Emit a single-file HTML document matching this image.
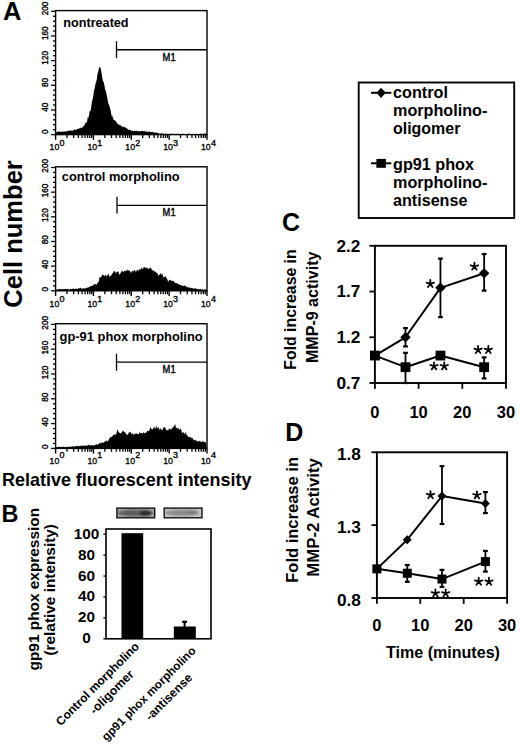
<!DOCTYPE html>
<html><head><meta charset="utf-8"><style>
html,body{margin:0;padding:0;background:#fff;}
svg{display:block;}
svg{font-family:"Liberation Sans",sans-serif;font-weight:bold;}
</style></head><body>
<svg width="520" height="744" viewBox="0 0 520 744">
<rect width="520" height="744" fill="#fff"/>
<polygon points="56.2,134.6 56.2,131.99 56.9,132.04 57.6,131.83 58.3,131.61 59,131.7 59.7,131.5 60.4,131.77 61.1,132.12 61.8,131.53 62.5,131.45 63.2,131.75 63.9,131.67 64.6,131.55 65.3,131.19 66,131.39 66.7,131.54 67.4,130.86 68.1,131.05 68.8,130.55 69.5,130.66 70.2,130.43 70.9,130.84 71.6,130.46 72.3,130.8 73,130.58 73.7,130.28 74.4,129.27 75.1,129.77 75.8,129.77 76.5,129.65 77.2,128.78 77.9,129.02 78.6,128.49 79.3,128.24 80,128.85 80.7,127.59 81.4,127.69 82.1,127.91 82.8,126.74 83.5,126.26 84.2,125.48 84.9,124.52 85.6,122.45 86.3,122.4 87,122.26 87.7,117.32 88.4,117.99 89.1,114.41 89.8,110.8 90.5,111.25 91.2,107.03 91.9,101.95 92.6,99.43 93.3,95.76 94,90.57 94.7,88.36 95.4,84.21 96.1,81.84 96.8,79.55 97.5,73.79 98.2,71.82 98.9,68.48 99.6,66.65 100.3,67.23 101,70.1 101.7,73.78 102.4,78.32 103.1,81.82 103.8,82.01 104.5,85.8 105.2,90.58 105.9,90.21 106.6,94.84 107.3,98.02 108,102.31 108.7,104.29 109.4,105.75 110.1,108.39 110.8,111.23 111.5,115.68 112.2,115.51 112.9,117.83 113.6,119.68 114.3,120.01 115,120.82 115.7,120.79 116.4,122.56 117.1,122.63 117.8,124.55 118.5,124.54 119.2,124.44 119.9,125.45 120.6,125.11 121.3,126.52 122,126.2 122.7,126.99 123.4,126.26 124.1,127.66 124.8,126.97 125.5,127.16 126.2,128.33 126.9,128.34 127.6,129.11 128.3,130.27 129,129.27 129.7,129.64 130.4,130.23 131.1,130.6 131.8,130.67 132.5,130.76 133.2,131.07 133.9,131.05 134.6,130.62 135.3,130.94 136,131.01 136.7,130.72 137.4,131.15 138.1,130.85 138.8,131.43 139.5,131.23 140.2,131.24 140.9,131.08 141.6,131.26 142.3,130.74 143,131.04 143.7,131.53 144.4,130.83 145.1,131.76 145.8,131.02 146.5,131.82 147.2,131.38 147.9,131.91 148.6,131.76 149.3,131.3 150,132.17 150.7,132.34 151.4,132 152.1,132.05 152.8,132.2 153.5,132.07 154.2,132.8 154.9,132.42 155.6,132.68 156.3,132.57 157,132.73 157.7,132.65 158.4,133.52 159.1,133.21 159.8,133.66 160.5,133.46 161.2,133.34 161.9,133.53 162.6,133.54 163.3,133.8 164,133.77 164.7,133.87 165.4,133.59 166.1,133.76 166.8,134.5 167.5,133.8 168.2,133.68 168.9,134.1 169.6,134.42 170.3,133.56 171,133.94 171.7,133.81 172.4,133.47 173.1,134.22 173.8,133.99 174.5,134.02 175.2,133.77 175.9,134.14 176.6,133.84 177.3,133.96 178,133.67 178.7,133.64 179.4,134.4 180.1,133.85 180.8,134.09 181.5,133.99 182.2,133.87 182.9,133.85 183.6,134.19 184.3,133.91 185,133.95 185.7,134.01 186.4,134.35 187.1,134.2 187.8,134.11 188.5,133.83 189.2,133.59 189.9,134.28 190.6,134.29 191.3,133.96 192,134.16 192.7,134.23 193.4,134.25 194.1,134.28 194.8,133.86 195.5,134.45 196.2,133.63 196.9,134.26 197.6,134.15 198.3,134.26 199,134.56 199.7,134.45 200.4,133.66 201.1,133.49 201.8,134.25 202.5,133.7 203.2,134 203.9,134.25 204.6,133.51 205.3,133.37 206,134.08 206.6,134.6" fill="#000"/>
<rect x="55.6" y="10.6" width="151.4" height="124" fill="none" stroke="#000" stroke-width="1.4"/>
<line x1="51.1" y1="134.6" x2="55.6" y2="134.6" stroke="#000" stroke-width="1.3" />
<line x1="53" y1="129.67" x2="55.6" y2="129.67" stroke="#000" stroke-width="1.3" />
<line x1="53" y1="124.74" x2="55.6" y2="124.74" stroke="#000" stroke-width="1.3" />
<line x1="53" y1="119.8" x2="55.6" y2="119.8" stroke="#000" stroke-width="1.3" />
<line x1="53" y1="114.87" x2="55.6" y2="114.87" stroke="#000" stroke-width="1.3" />
<line x1="51.1" y1="109.94" x2="55.6" y2="109.94" stroke="#000" stroke-width="1.3" />
<line x1="53" y1="105.01" x2="55.6" y2="105.01" stroke="#000" stroke-width="1.3" />
<line x1="53" y1="100.08" x2="55.6" y2="100.08" stroke="#000" stroke-width="1.3" />
<line x1="53" y1="95.14" x2="55.6" y2="95.14" stroke="#000" stroke-width="1.3" />
<line x1="53" y1="90.21" x2="55.6" y2="90.21" stroke="#000" stroke-width="1.3" />
<line x1="51.1" y1="85.28" x2="55.6" y2="85.28" stroke="#000" stroke-width="1.3" />
<line x1="53" y1="80.35" x2="55.6" y2="80.35" stroke="#000" stroke-width="1.3" />
<line x1="53" y1="75.42" x2="55.6" y2="75.42" stroke="#000" stroke-width="1.3" />
<line x1="53" y1="70.48" x2="55.6" y2="70.48" stroke="#000" stroke-width="1.3" />
<line x1="53" y1="65.55" x2="55.6" y2="65.55" stroke="#000" stroke-width="1.3" />
<line x1="51.1" y1="60.62" x2="55.6" y2="60.62" stroke="#000" stroke-width="1.3" />
<line x1="53" y1="55.69" x2="55.6" y2="55.69" stroke="#000" stroke-width="1.3" />
<line x1="53" y1="50.76" x2="55.6" y2="50.76" stroke="#000" stroke-width="1.3" />
<line x1="53" y1="45.82" x2="55.6" y2="45.82" stroke="#000" stroke-width="1.3" />
<line x1="53" y1="40.89" x2="55.6" y2="40.89" stroke="#000" stroke-width="1.3" />
<line x1="51.1" y1="35.96" x2="55.6" y2="35.96" stroke="#000" stroke-width="1.3" />
<line x1="53" y1="31.03" x2="55.6" y2="31.03" stroke="#000" stroke-width="1.3" />
<line x1="53" y1="26.1" x2="55.6" y2="26.1" stroke="#000" stroke-width="1.3" />
<line x1="53" y1="21.16" x2="55.6" y2="21.16" stroke="#000" stroke-width="1.3" />
<line x1="53" y1="16.23" x2="55.6" y2="16.23" stroke="#000" stroke-width="1.3" />
<line x1="51.1" y1="11.3" x2="55.6" y2="11.3" stroke="#000" stroke-width="1.3" />
<text x="48.2" y="131.8" font-size="9.6" font-weight="normal" stroke="#000" stroke-width="0.4" text-anchor="middle" textLength="4.55" lengthAdjust="spacingAndGlyphs" transform="rotate(-90 48.2 131.8)" >0</text>
<text x="48.2" y="107.14" font-size="9.6" font-weight="normal" stroke="#000" stroke-width="0.4" text-anchor="middle" textLength="9.1" lengthAdjust="spacingAndGlyphs" transform="rotate(-90 48.2 107.14)" >40</text>
<text x="48.2" y="82.48" font-size="9.6" font-weight="normal" stroke="#000" stroke-width="0.4" text-anchor="middle" textLength="9.1" lengthAdjust="spacingAndGlyphs" transform="rotate(-90 48.2 82.48)" >80</text>
<text x="48.2" y="57.82" font-size="9.6" font-weight="normal" stroke="#000" stroke-width="0.4" text-anchor="middle" textLength="13.65" lengthAdjust="spacingAndGlyphs" transform="rotate(-90 48.2 57.82)" >120</text>
<text x="48.2" y="33.16" font-size="9.6" font-weight="normal" stroke="#000" stroke-width="0.4" text-anchor="middle" textLength="13.65" lengthAdjust="spacingAndGlyphs" transform="rotate(-90 48.2 33.16)" >160</text>
<text x="48.2" y="8.5" font-size="9.6" font-weight="normal" stroke="#000" stroke-width="0.4" text-anchor="middle" textLength="13.65" lengthAdjust="spacingAndGlyphs" transform="rotate(-90 48.2 8.5)" >200</text>
<line x1="66.99" y1="134.6" x2="66.99" y2="138" stroke="#000" stroke-width="1.3" />
<line x1="73.66" y1="134.6" x2="73.66" y2="138" stroke="#000" stroke-width="1.3" />
<line x1="78.39" y1="134.6" x2="78.39" y2="138" stroke="#000" stroke-width="1.3" />
<line x1="82.06" y1="134.6" x2="82.06" y2="138" stroke="#000" stroke-width="1.3" />
<line x1="85.05" y1="134.6" x2="85.05" y2="138" stroke="#000" stroke-width="1.3" />
<line x1="87.59" y1="134.6" x2="87.59" y2="138" stroke="#000" stroke-width="1.3" />
<line x1="89.78" y1="134.6" x2="89.78" y2="138" stroke="#000" stroke-width="1.3" />
<line x1="91.72" y1="134.6" x2="91.72" y2="138" stroke="#000" stroke-width="1.3" />
<line x1="104.84" y1="134.6" x2="104.84" y2="138" stroke="#000" stroke-width="1.3" />
<line x1="111.51" y1="134.6" x2="111.51" y2="138" stroke="#000" stroke-width="1.3" />
<line x1="116.24" y1="134.6" x2="116.24" y2="138" stroke="#000" stroke-width="1.3" />
<line x1="119.91" y1="134.6" x2="119.91" y2="138" stroke="#000" stroke-width="1.3" />
<line x1="122.9" y1="134.6" x2="122.9" y2="138" stroke="#000" stroke-width="1.3" />
<line x1="125.44" y1="134.6" x2="125.44" y2="138" stroke="#000" stroke-width="1.3" />
<line x1="127.63" y1="134.6" x2="127.63" y2="138" stroke="#000" stroke-width="1.3" />
<line x1="129.57" y1="134.6" x2="129.57" y2="138" stroke="#000" stroke-width="1.3" />
<line x1="142.69" y1="134.6" x2="142.69" y2="138" stroke="#000" stroke-width="1.3" />
<line x1="149.36" y1="134.6" x2="149.36" y2="138" stroke="#000" stroke-width="1.3" />
<line x1="154.09" y1="134.6" x2="154.09" y2="138" stroke="#000" stroke-width="1.3" />
<line x1="157.76" y1="134.6" x2="157.76" y2="138" stroke="#000" stroke-width="1.3" />
<line x1="160.75" y1="134.6" x2="160.75" y2="138" stroke="#000" stroke-width="1.3" />
<line x1="163.29" y1="134.6" x2="163.29" y2="138" stroke="#000" stroke-width="1.3" />
<line x1="165.48" y1="134.6" x2="165.48" y2="138" stroke="#000" stroke-width="1.3" />
<line x1="167.42" y1="134.6" x2="167.42" y2="138" stroke="#000" stroke-width="1.3" />
<line x1="180.54" y1="134.6" x2="180.54" y2="138" stroke="#000" stroke-width="1.3" />
<line x1="187.21" y1="134.6" x2="187.21" y2="138" stroke="#000" stroke-width="1.3" />
<line x1="191.94" y1="134.6" x2="191.94" y2="138" stroke="#000" stroke-width="1.3" />
<line x1="195.61" y1="134.6" x2="195.61" y2="138" stroke="#000" stroke-width="1.3" />
<line x1="198.6" y1="134.6" x2="198.6" y2="138" stroke="#000" stroke-width="1.3" />
<line x1="201.14" y1="134.6" x2="201.14" y2="138" stroke="#000" stroke-width="1.3" />
<line x1="203.33" y1="134.6" x2="203.33" y2="138" stroke="#000" stroke-width="1.3" />
<line x1="205.27" y1="134.6" x2="205.27" y2="138" stroke="#000" stroke-width="1.3" />
<line x1="55.6" y1="134.6" x2="55.6" y2="139.8" stroke="#000" stroke-width="1.4" />
<text x="49.6" y="150.4" font-size="9.6" font-weight="normal" stroke="#000" stroke-width="0.35" textLength="9.7" lengthAdjust="spacingAndGlyphs">10</text>
<text x="59.5" y="145.5" font-size="9" font-weight="normal" stroke="#000" stroke-width="0.35">0</text>
<line x1="93.45" y1="134.6" x2="93.45" y2="139.8" stroke="#000" stroke-width="1.4" />
<text x="87.45" y="150.4" font-size="9.6" font-weight="normal" stroke="#000" stroke-width="0.35" textLength="9.7" lengthAdjust="spacingAndGlyphs">10</text>
<text x="97.35" y="145.5" font-size="9" font-weight="normal" stroke="#000" stroke-width="0.35">1</text>
<line x1="131.3" y1="134.6" x2="131.3" y2="139.8" stroke="#000" stroke-width="1.4" />
<text x="125.3" y="150.4" font-size="9.6" font-weight="normal" stroke="#000" stroke-width="0.35" textLength="9.7" lengthAdjust="spacingAndGlyphs">10</text>
<text x="135.2" y="145.5" font-size="9" font-weight="normal" stroke="#000" stroke-width="0.35">2</text>
<line x1="169.15" y1="134.6" x2="169.15" y2="139.8" stroke="#000" stroke-width="1.4" />
<text x="163.15" y="150.4" font-size="9.6" font-weight="normal" stroke="#000" stroke-width="0.35" textLength="9.7" lengthAdjust="spacingAndGlyphs">10</text>
<text x="173.05" y="145.5" font-size="9" font-weight="normal" stroke="#000" stroke-width="0.35">3</text>
<line x1="207" y1="134.6" x2="207" y2="139.8" stroke="#000" stroke-width="1.4" />
<text x="201" y="150.4" font-size="9.6" font-weight="normal" stroke="#000" stroke-width="0.35" textLength="9.7" lengthAdjust="spacingAndGlyphs">10</text>
<text x="210.9" y="145.5" font-size="9" font-weight="normal" stroke="#000" stroke-width="0.35">4</text>
<text x="63.3" y="27.3" font-size="12.5" textLength="65.3" lengthAdjust="spacingAndGlyphs" >nontreated</text>
<line x1="116.5" y1="41.2" x2="116.5" y2="58.1" stroke="#000" stroke-width="1.3" />
<line x1="116.5" y1="49.75" x2="207" y2="49.75" stroke="#000" stroke-width="1.3" />
<text x="162.6" y="60.7" font-size="10.4" font-weight="normal" stroke="#000" stroke-width="0.4" textLength="13" lengthAdjust="spacingAndGlyphs" >M1</text>
<polygon points="56.2,290.8 56.2,289.51 56.9,289.4 57.6,289.46 58.3,289.16 59,288.94 59.7,289.32 60.4,289.06 61.1,288.83 61.8,289.45 62.5,289.26 63.2,289.37 63.9,288.93 64.6,289.01 65.3,288.88 66,288.89 66.7,289.19 67.4,288.87 68.1,289.19 68.8,289.16 69.5,289.64 70.2,288.59 70.9,289.25 71.6,288.94 72.3,288.93 73,288.48 73.7,288.75 74.4,289.09 75.1,288.82 75.8,288.84 76.5,288.71 77.2,289.12 77.9,288.74 78.6,288.06 79.3,288.49 80,288.08 80.7,287.67 81.4,288.47 82.1,289 82.8,288.59 83.5,288.2 84.2,288.25 84.9,288.84 85.6,288.31 86.3,287.99 87,287.68 87.7,287.43 88.4,287.39 89.1,287.07 89.8,286.71 90.5,286.01 91.2,286.3 91.9,285.52 92.6,285.95 93.3,284.59 94,284.78 94.7,284.53 95.4,283.47 96.1,284.74 96.8,284.25 97.5,282.69 98.2,282.76 98.9,280.89 99.6,276.46 100.3,277.92 101,276.8 101.7,276.3 102.4,274.58 103.1,275.2 103.8,274.97 104.5,276.27 105.2,275.08 105.9,274.95 106.6,277.07 107.3,274.85 108,275.33 108.7,273.3 109.4,277.05 110.1,276.01 110.8,275.64 111.5,275.03 112.2,273.85 112.9,273 113.6,271.46 114.3,271.01 115,271.43 115.7,273.3 116.4,272.27 117.1,271.69 117.8,271.48 118.5,271.84 119.2,274.94 119.9,274.05 120.6,273.04 121.3,271.91 122,270.37 122.7,271.53 123.4,272.57 124.1,270.97 124.8,271.08 125.5,271 126.2,271.29 126.9,269.11 127.6,270.6 128.3,269.71 129,271.66 129.7,269.93 130.4,271.81 131.1,273.2 131.8,271.25 132.5,270.77 133.2,271.42 133.9,270.89 134.6,269.4 135.3,270.85 136,272.42 136.7,269.97 137.4,270.32 138.1,269.59 138.8,271.5 139.5,269.12 140.2,268.47 140.9,270.52 141.6,267.08 142.3,268.81 143,268.9 143.7,266.93 144.4,266.84 145.1,268.34 145.8,267.16 146.5,268.09 147.2,267.82 147.9,268.23 148.6,268.95 149.3,268.87 150,267.13 150.7,267.77 151.4,268.73 152.1,270.22 152.8,270.09 153.5,271.06 154.2,271.62 154.9,271.37 155.6,272.08 156.3,272.75 157,272.78 157.7,273.86 158.4,275.88 159.1,274.72 159.8,274.46 160.5,272.75 161.2,275.61 161.9,273.19 162.6,274.22 163.3,277.27 164,277.46 164.7,276.87 165.4,275.75 166.1,277.82 166.8,278.17 167.5,280.03 168.2,281.92 168.9,280.38 169.6,279.77 170.3,279.7 171,280.83 171.7,280.97 172.4,280.42 173.1,281.54 173.8,280.77 174.5,282.59 175.2,282.78 175.9,283.23 176.6,282.69 177.3,283.77 178,283.87 178.7,284.22 179.4,284.73 180.1,284.74 180.8,284.79 181.5,285.85 182.2,285.53 182.9,285.79 183.6,286.2 184.3,285.22 185,285.7 185.7,286.34 186.4,286.69 187.1,286.72 187.8,287.43 188.5,287.46 189.2,287.32 189.9,287.68 190.6,288.29 191.3,288.24 192,287.59 192.7,288.62 193.4,288.45 194.1,288.73 194.8,288.27 195.5,288.4 196.2,288.28 196.9,289.5 197.6,288.82 198.3,289.47 199,288.93 199.7,289.3 200.4,288.83 201.1,289.27 201.8,289.74 202.5,289.12 203.2,289.88 203.9,289.71 204.6,289.35 205.3,289.55 206,289.56 206.6,290.8" fill="#000"/>
<rect x="55.6" y="166.8" width="151.4" height="124" fill="none" stroke="#000" stroke-width="1.4"/>
<line x1="51.1" y1="290.8" x2="55.6" y2="290.8" stroke="#000" stroke-width="1.3" />
<line x1="53" y1="285.87" x2="55.6" y2="285.87" stroke="#000" stroke-width="1.3" />
<line x1="53" y1="280.94" x2="55.6" y2="280.94" stroke="#000" stroke-width="1.3" />
<line x1="53" y1="276" x2="55.6" y2="276" stroke="#000" stroke-width="1.3" />
<line x1="53" y1="271.07" x2="55.6" y2="271.07" stroke="#000" stroke-width="1.3" />
<line x1="51.1" y1="266.14" x2="55.6" y2="266.14" stroke="#000" stroke-width="1.3" />
<line x1="53" y1="261.21" x2="55.6" y2="261.21" stroke="#000" stroke-width="1.3" />
<line x1="53" y1="256.28" x2="55.6" y2="256.28" stroke="#000" stroke-width="1.3" />
<line x1="53" y1="251.34" x2="55.6" y2="251.34" stroke="#000" stroke-width="1.3" />
<line x1="53" y1="246.41" x2="55.6" y2="246.41" stroke="#000" stroke-width="1.3" />
<line x1="51.1" y1="241.48" x2="55.6" y2="241.48" stroke="#000" stroke-width="1.3" />
<line x1="53" y1="236.55" x2="55.6" y2="236.55" stroke="#000" stroke-width="1.3" />
<line x1="53" y1="231.62" x2="55.6" y2="231.62" stroke="#000" stroke-width="1.3" />
<line x1="53" y1="226.68" x2="55.6" y2="226.68" stroke="#000" stroke-width="1.3" />
<line x1="53" y1="221.75" x2="55.6" y2="221.75" stroke="#000" stroke-width="1.3" />
<line x1="51.1" y1="216.82" x2="55.6" y2="216.82" stroke="#000" stroke-width="1.3" />
<line x1="53" y1="211.89" x2="55.6" y2="211.89" stroke="#000" stroke-width="1.3" />
<line x1="53" y1="206.96" x2="55.6" y2="206.96" stroke="#000" stroke-width="1.3" />
<line x1="53" y1="202.02" x2="55.6" y2="202.02" stroke="#000" stroke-width="1.3" />
<line x1="53" y1="197.09" x2="55.6" y2="197.09" stroke="#000" stroke-width="1.3" />
<line x1="51.1" y1="192.16" x2="55.6" y2="192.16" stroke="#000" stroke-width="1.3" />
<line x1="53" y1="187.23" x2="55.6" y2="187.23" stroke="#000" stroke-width="1.3" />
<line x1="53" y1="182.3" x2="55.6" y2="182.3" stroke="#000" stroke-width="1.3" />
<line x1="53" y1="177.36" x2="55.6" y2="177.36" stroke="#000" stroke-width="1.3" />
<line x1="53" y1="172.43" x2="55.6" y2="172.43" stroke="#000" stroke-width="1.3" />
<line x1="51.1" y1="167.5" x2="55.6" y2="167.5" stroke="#000" stroke-width="1.3" />
<text x="48.2" y="289.1" font-size="9.6" font-weight="normal" stroke="#000" stroke-width="0.4" text-anchor="middle" textLength="4.55" lengthAdjust="spacingAndGlyphs" transform="rotate(-90 48.2 289.1)" >0</text>
<text x="48.2" y="264.44" font-size="9.6" font-weight="normal" stroke="#000" stroke-width="0.4" text-anchor="middle" textLength="9.1" lengthAdjust="spacingAndGlyphs" transform="rotate(-90 48.2 264.44)" >40</text>
<text x="48.2" y="239.78" font-size="9.6" font-weight="normal" stroke="#000" stroke-width="0.4" text-anchor="middle" textLength="9.1" lengthAdjust="spacingAndGlyphs" transform="rotate(-90 48.2 239.78)" >80</text>
<text x="48.2" y="215.12" font-size="9.6" font-weight="normal" stroke="#000" stroke-width="0.4" text-anchor="middle" textLength="13.65" lengthAdjust="spacingAndGlyphs" transform="rotate(-90 48.2 215.12)" >120</text>
<text x="48.2" y="190.46" font-size="9.6" font-weight="normal" stroke="#000" stroke-width="0.4" text-anchor="middle" textLength="13.65" lengthAdjust="spacingAndGlyphs" transform="rotate(-90 48.2 190.46)" >160</text>
<text x="48.2" y="165.8" font-size="9.6" font-weight="normal" stroke="#000" stroke-width="0.4" text-anchor="middle" textLength="13.65" lengthAdjust="spacingAndGlyphs" transform="rotate(-90 48.2 165.8)" >200</text>
<line x1="66.99" y1="290.8" x2="66.99" y2="294.2" stroke="#000" stroke-width="1.3" />
<line x1="73.66" y1="290.8" x2="73.66" y2="294.2" stroke="#000" stroke-width="1.3" />
<line x1="78.39" y1="290.8" x2="78.39" y2="294.2" stroke="#000" stroke-width="1.3" />
<line x1="82.06" y1="290.8" x2="82.06" y2="294.2" stroke="#000" stroke-width="1.3" />
<line x1="85.05" y1="290.8" x2="85.05" y2="294.2" stroke="#000" stroke-width="1.3" />
<line x1="87.59" y1="290.8" x2="87.59" y2="294.2" stroke="#000" stroke-width="1.3" />
<line x1="89.78" y1="290.8" x2="89.78" y2="294.2" stroke="#000" stroke-width="1.3" />
<line x1="91.72" y1="290.8" x2="91.72" y2="294.2" stroke="#000" stroke-width="1.3" />
<line x1="104.84" y1="290.8" x2="104.84" y2="294.2" stroke="#000" stroke-width="1.3" />
<line x1="111.51" y1="290.8" x2="111.51" y2="294.2" stroke="#000" stroke-width="1.3" />
<line x1="116.24" y1="290.8" x2="116.24" y2="294.2" stroke="#000" stroke-width="1.3" />
<line x1="119.91" y1="290.8" x2="119.91" y2="294.2" stroke="#000" stroke-width="1.3" />
<line x1="122.9" y1="290.8" x2="122.9" y2="294.2" stroke="#000" stroke-width="1.3" />
<line x1="125.44" y1="290.8" x2="125.44" y2="294.2" stroke="#000" stroke-width="1.3" />
<line x1="127.63" y1="290.8" x2="127.63" y2="294.2" stroke="#000" stroke-width="1.3" />
<line x1="129.57" y1="290.8" x2="129.57" y2="294.2" stroke="#000" stroke-width="1.3" />
<line x1="142.69" y1="290.8" x2="142.69" y2="294.2" stroke="#000" stroke-width="1.3" />
<line x1="149.36" y1="290.8" x2="149.36" y2="294.2" stroke="#000" stroke-width="1.3" />
<line x1="154.09" y1="290.8" x2="154.09" y2="294.2" stroke="#000" stroke-width="1.3" />
<line x1="157.76" y1="290.8" x2="157.76" y2="294.2" stroke="#000" stroke-width="1.3" />
<line x1="160.75" y1="290.8" x2="160.75" y2="294.2" stroke="#000" stroke-width="1.3" />
<line x1="163.29" y1="290.8" x2="163.29" y2="294.2" stroke="#000" stroke-width="1.3" />
<line x1="165.48" y1="290.8" x2="165.48" y2="294.2" stroke="#000" stroke-width="1.3" />
<line x1="167.42" y1="290.8" x2="167.42" y2="294.2" stroke="#000" stroke-width="1.3" />
<line x1="180.54" y1="290.8" x2="180.54" y2="294.2" stroke="#000" stroke-width="1.3" />
<line x1="187.21" y1="290.8" x2="187.21" y2="294.2" stroke="#000" stroke-width="1.3" />
<line x1="191.94" y1="290.8" x2="191.94" y2="294.2" stroke="#000" stroke-width="1.3" />
<line x1="195.61" y1="290.8" x2="195.61" y2="294.2" stroke="#000" stroke-width="1.3" />
<line x1="198.6" y1="290.8" x2="198.6" y2="294.2" stroke="#000" stroke-width="1.3" />
<line x1="201.14" y1="290.8" x2="201.14" y2="294.2" stroke="#000" stroke-width="1.3" />
<line x1="203.33" y1="290.8" x2="203.33" y2="294.2" stroke="#000" stroke-width="1.3" />
<line x1="205.27" y1="290.8" x2="205.27" y2="294.2" stroke="#000" stroke-width="1.3" />
<line x1="55.6" y1="290.8" x2="55.6" y2="296" stroke="#000" stroke-width="1.4" />
<text x="49.6" y="306.8" font-size="9.6" font-weight="normal" stroke="#000" stroke-width="0.35" textLength="9.7" lengthAdjust="spacingAndGlyphs">10</text>
<text x="59.5" y="301.6" font-size="9" font-weight="normal" stroke="#000" stroke-width="0.35">0</text>
<line x1="93.45" y1="290.8" x2="93.45" y2="296" stroke="#000" stroke-width="1.4" />
<text x="87.45" y="306.8" font-size="9.6" font-weight="normal" stroke="#000" stroke-width="0.35" textLength="9.7" lengthAdjust="spacingAndGlyphs">10</text>
<text x="97.35" y="301.6" font-size="9" font-weight="normal" stroke="#000" stroke-width="0.35">1</text>
<line x1="131.3" y1="290.8" x2="131.3" y2="296" stroke="#000" stroke-width="1.4" />
<text x="125.3" y="306.8" font-size="9.6" font-weight="normal" stroke="#000" stroke-width="0.35" textLength="9.7" lengthAdjust="spacingAndGlyphs">10</text>
<text x="135.2" y="301.6" font-size="9" font-weight="normal" stroke="#000" stroke-width="0.35">2</text>
<line x1="169.15" y1="290.8" x2="169.15" y2="296" stroke="#000" stroke-width="1.4" />
<text x="163.15" y="306.8" font-size="9.6" font-weight="normal" stroke="#000" stroke-width="0.35" textLength="9.7" lengthAdjust="spacingAndGlyphs">10</text>
<text x="173.05" y="301.6" font-size="9" font-weight="normal" stroke="#000" stroke-width="0.35">3</text>
<line x1="207" y1="290.8" x2="207" y2="296" stroke="#000" stroke-width="1.4" />
<text x="201" y="306.8" font-size="9.6" font-weight="normal" stroke="#000" stroke-width="0.35" textLength="9.7" lengthAdjust="spacingAndGlyphs">10</text>
<text x="210.9" y="301.6" font-size="9" font-weight="normal" stroke="#000" stroke-width="0.35">4</text>
<text x="61.8" y="181" font-size="12.5" textLength="117.8" lengthAdjust="spacingAndGlyphs" >control morpholino</text>
<line x1="117" y1="196.7" x2="117" y2="213.6" stroke="#000" stroke-width="1.3" />
<line x1="117" y1="205.3" x2="207" y2="205.3" stroke="#000" stroke-width="1.3" />
<text x="162.6" y="215.9" font-size="10.4" font-weight="normal" stroke="#000" stroke-width="0.4" textLength="13" lengthAdjust="spacingAndGlyphs" >M1</text>
<polygon points="56.2,448.4 56.2,447.18 56.9,447.02 57.6,446.92 58.3,447.06 59,446.83 59.7,446.73 60.4,447.09 61.1,447.35 61.8,446.61 62.5,447.06 63.2,446.85 63.9,446.73 64.6,447.26 65.3,446.83 66,447.39 66.7,446.66 67.4,446.97 68.1,446.75 68.8,446.55 69.5,446.91 70.2,446.64 70.9,446.83 71.6,446.59 72.3,446.24 73,446.49 73.7,446.49 74.4,446.72 75.1,446.12 75.8,446.34 76.5,445.79 77.2,446.46 77.9,445.9 78.6,445.64 79.3,446.12 80,446.43 80.7,445.6 81.4,445.69 82.1,445.75 82.8,445.59 83.5,446 84.2,445.61 84.9,445.59 85.6,445.9 86.3,445.42 87,445.69 87.7,445.18 88.4,445.03 89.1,444.76 89.8,445.78 90.5,445.1 91.2,445.27 91.9,445.19 92.6,445.25 93.3,445.21 94,445.77 94.7,444.89 95.4,444.63 96.1,444.6 96.8,444.32 97.5,444.76 98.2,444.56 98.9,443.56 99.6,442.98 100.3,443.09 101,443.69 101.7,441.73 102.4,443.06 103.1,442.17 103.8,442.88 104.5,441.56 105.2,441.67 105.9,440.71 106.6,440.59 107.3,441.61 108,440.89 108.7,439.7 109.4,438.71 110.1,437.04 110.8,437.39 111.5,437.05 112.2,436.4 112.9,435.79 113.6,434.28 114.3,434.95 115,434.56 115.7,434.54 116.4,433.87 117.1,430.3 117.8,429.62 118.5,432.19 119.2,432.83 119.9,432.85 120.6,433.83 121.3,432.15 122,432.73 122.7,430.48 123.4,431 124.1,431.71 124.8,432.28 125.5,432.83 126.2,434.26 126.9,434.53 127.6,434.88 128.3,433.94 129,431.63 129.7,432.67 130.4,431.27 131.1,433.18 131.8,434.59 132.5,432.78 133.2,434.82 133.9,434.61 134.6,433.98 135.3,433.57 136,433.78 136.7,433.24 137.4,434.18 138.1,433.9 138.8,434.03 139.5,431.88 140.2,433.22 140.9,433.25 141.6,433.05 142.3,432.83 143,434.16 143.7,431.22 144.4,433.49 145.1,432.95 145.8,432.72 146.5,432.48 147.2,430.86 147.9,430.94 148.6,431.24 149.3,430.16 150,429.05 150.7,426.73 151.4,428.93 152.1,429.43 152.8,428.98 153.5,428.08 154.2,426.07 154.9,429.21 155.6,428.04 156.3,425.37 157,429.12 157.7,427.13 158.4,427.62 159.1,428.6 159.8,430.61 160.5,428.35 161.2,428.87 161.9,430.43 162.6,430.03 163.3,427.79 164,427.41 164.7,426.72 165.4,427.94 166.1,429.82 166.8,430.32 167.5,429.93 168.2,430.71 168.9,428.31 169.6,428.89 170.3,429.51 171,428.93 171.7,429.12 172.4,427.92 173.1,426.67 173.8,427.09 174.5,425.07 175.2,424.26 175.9,427.73 176.6,427.77 177.3,428.9 178,427.03 178.7,429.17 179.4,429.42 180.1,429.62 180.8,428.35 181.5,431.05 182.2,432.92 182.9,432.7 183.6,432.04 184.3,433.28 185,434.72 185.7,431.27 186.4,434.62 187.1,435.62 187.8,436.03 188.5,437.34 189.2,437.08 189.9,436.76 190.6,437.25 191.3,438.17 192,437.55 192.7,438.39 193.4,439.53 194.1,440.69 194.8,439.57 195.5,439.97 196.2,440.41 196.9,441.4 197.6,440.82 198.3,441.91 199,440.61 199.7,441.18 200.4,441.29 201.1,441.95 201.8,442.22 202.5,441 203.2,441.47 203.9,442.25 204.6,441.96 205.3,441.77 206,443.17 206.6,448.4" fill="#000"/>
<rect x="55.6" y="323.7" width="151.4" height="124.7" fill="none" stroke="#000" stroke-width="1.4"/>
<line x1="51.1" y1="448.4" x2="55.6" y2="448.4" stroke="#000" stroke-width="1.3" />
<line x1="53" y1="443.44" x2="55.6" y2="443.44" stroke="#000" stroke-width="1.3" />
<line x1="53" y1="438.48" x2="55.6" y2="438.48" stroke="#000" stroke-width="1.3" />
<line x1="53" y1="433.52" x2="55.6" y2="433.52" stroke="#000" stroke-width="1.3" />
<line x1="53" y1="428.56" x2="55.6" y2="428.56" stroke="#000" stroke-width="1.3" />
<line x1="51.1" y1="423.6" x2="55.6" y2="423.6" stroke="#000" stroke-width="1.3" />
<line x1="53" y1="418.64" x2="55.6" y2="418.64" stroke="#000" stroke-width="1.3" />
<line x1="53" y1="413.68" x2="55.6" y2="413.68" stroke="#000" stroke-width="1.3" />
<line x1="53" y1="408.72" x2="55.6" y2="408.72" stroke="#000" stroke-width="1.3" />
<line x1="53" y1="403.76" x2="55.6" y2="403.76" stroke="#000" stroke-width="1.3" />
<line x1="51.1" y1="398.8" x2="55.6" y2="398.8" stroke="#000" stroke-width="1.3" />
<line x1="53" y1="393.84" x2="55.6" y2="393.84" stroke="#000" stroke-width="1.3" />
<line x1="53" y1="388.88" x2="55.6" y2="388.88" stroke="#000" stroke-width="1.3" />
<line x1="53" y1="383.92" x2="55.6" y2="383.92" stroke="#000" stroke-width="1.3" />
<line x1="53" y1="378.96" x2="55.6" y2="378.96" stroke="#000" stroke-width="1.3" />
<line x1="51.1" y1="374" x2="55.6" y2="374" stroke="#000" stroke-width="1.3" />
<line x1="53" y1="369.04" x2="55.6" y2="369.04" stroke="#000" stroke-width="1.3" />
<line x1="53" y1="364.08" x2="55.6" y2="364.08" stroke="#000" stroke-width="1.3" />
<line x1="53" y1="359.12" x2="55.6" y2="359.12" stroke="#000" stroke-width="1.3" />
<line x1="53" y1="354.16" x2="55.6" y2="354.16" stroke="#000" stroke-width="1.3" />
<line x1="51.1" y1="349.2" x2="55.6" y2="349.2" stroke="#000" stroke-width="1.3" />
<line x1="53" y1="344.24" x2="55.6" y2="344.24" stroke="#000" stroke-width="1.3" />
<line x1="53" y1="339.28" x2="55.6" y2="339.28" stroke="#000" stroke-width="1.3" />
<line x1="53" y1="334.32" x2="55.6" y2="334.32" stroke="#000" stroke-width="1.3" />
<line x1="53" y1="329.36" x2="55.6" y2="329.36" stroke="#000" stroke-width="1.3" />
<line x1="51.1" y1="324.4" x2="55.6" y2="324.4" stroke="#000" stroke-width="1.3" />
<text x="48.2" y="446.8" font-size="9.6" font-weight="normal" stroke="#000" stroke-width="0.4" text-anchor="middle" textLength="4.55" lengthAdjust="spacingAndGlyphs" transform="rotate(-90 48.2 446.8)" >0</text>
<text x="48.2" y="422" font-size="9.6" font-weight="normal" stroke="#000" stroke-width="0.4" text-anchor="middle" textLength="9.1" lengthAdjust="spacingAndGlyphs" transform="rotate(-90 48.2 422)" >40</text>
<text x="48.2" y="397.2" font-size="9.6" font-weight="normal" stroke="#000" stroke-width="0.4" text-anchor="middle" textLength="9.1" lengthAdjust="spacingAndGlyphs" transform="rotate(-90 48.2 397.2)" >80</text>
<text x="48.2" y="372.4" font-size="9.6" font-weight="normal" stroke="#000" stroke-width="0.4" text-anchor="middle" textLength="13.65" lengthAdjust="spacingAndGlyphs" transform="rotate(-90 48.2 372.4)" >120</text>
<text x="48.2" y="347.6" font-size="9.6" font-weight="normal" stroke="#000" stroke-width="0.4" text-anchor="middle" textLength="13.65" lengthAdjust="spacingAndGlyphs" transform="rotate(-90 48.2 347.6)" >160</text>
<text x="48.2" y="322.8" font-size="9.6" font-weight="normal" stroke="#000" stroke-width="0.4" text-anchor="middle" textLength="13.65" lengthAdjust="spacingAndGlyphs" transform="rotate(-90 48.2 322.8)" >200</text>
<line x1="66.99" y1="448.4" x2="66.99" y2="451.8" stroke="#000" stroke-width="1.3" />
<line x1="73.66" y1="448.4" x2="73.66" y2="451.8" stroke="#000" stroke-width="1.3" />
<line x1="78.39" y1="448.4" x2="78.39" y2="451.8" stroke="#000" stroke-width="1.3" />
<line x1="82.06" y1="448.4" x2="82.06" y2="451.8" stroke="#000" stroke-width="1.3" />
<line x1="85.05" y1="448.4" x2="85.05" y2="451.8" stroke="#000" stroke-width="1.3" />
<line x1="87.59" y1="448.4" x2="87.59" y2="451.8" stroke="#000" stroke-width="1.3" />
<line x1="89.78" y1="448.4" x2="89.78" y2="451.8" stroke="#000" stroke-width="1.3" />
<line x1="91.72" y1="448.4" x2="91.72" y2="451.8" stroke="#000" stroke-width="1.3" />
<line x1="104.84" y1="448.4" x2="104.84" y2="451.8" stroke="#000" stroke-width="1.3" />
<line x1="111.51" y1="448.4" x2="111.51" y2="451.8" stroke="#000" stroke-width="1.3" />
<line x1="116.24" y1="448.4" x2="116.24" y2="451.8" stroke="#000" stroke-width="1.3" />
<line x1="119.91" y1="448.4" x2="119.91" y2="451.8" stroke="#000" stroke-width="1.3" />
<line x1="122.9" y1="448.4" x2="122.9" y2="451.8" stroke="#000" stroke-width="1.3" />
<line x1="125.44" y1="448.4" x2="125.44" y2="451.8" stroke="#000" stroke-width="1.3" />
<line x1="127.63" y1="448.4" x2="127.63" y2="451.8" stroke="#000" stroke-width="1.3" />
<line x1="129.57" y1="448.4" x2="129.57" y2="451.8" stroke="#000" stroke-width="1.3" />
<line x1="142.69" y1="448.4" x2="142.69" y2="451.8" stroke="#000" stroke-width="1.3" />
<line x1="149.36" y1="448.4" x2="149.36" y2="451.8" stroke="#000" stroke-width="1.3" />
<line x1="154.09" y1="448.4" x2="154.09" y2="451.8" stroke="#000" stroke-width="1.3" />
<line x1="157.76" y1="448.4" x2="157.76" y2="451.8" stroke="#000" stroke-width="1.3" />
<line x1="160.75" y1="448.4" x2="160.75" y2="451.8" stroke="#000" stroke-width="1.3" />
<line x1="163.29" y1="448.4" x2="163.29" y2="451.8" stroke="#000" stroke-width="1.3" />
<line x1="165.48" y1="448.4" x2="165.48" y2="451.8" stroke="#000" stroke-width="1.3" />
<line x1="167.42" y1="448.4" x2="167.42" y2="451.8" stroke="#000" stroke-width="1.3" />
<line x1="180.54" y1="448.4" x2="180.54" y2="451.8" stroke="#000" stroke-width="1.3" />
<line x1="187.21" y1="448.4" x2="187.21" y2="451.8" stroke="#000" stroke-width="1.3" />
<line x1="191.94" y1="448.4" x2="191.94" y2="451.8" stroke="#000" stroke-width="1.3" />
<line x1="195.61" y1="448.4" x2="195.61" y2="451.8" stroke="#000" stroke-width="1.3" />
<line x1="198.6" y1="448.4" x2="198.6" y2="451.8" stroke="#000" stroke-width="1.3" />
<line x1="201.14" y1="448.4" x2="201.14" y2="451.8" stroke="#000" stroke-width="1.3" />
<line x1="203.33" y1="448.4" x2="203.33" y2="451.8" stroke="#000" stroke-width="1.3" />
<line x1="205.27" y1="448.4" x2="205.27" y2="451.8" stroke="#000" stroke-width="1.3" />
<line x1="55.6" y1="448.4" x2="55.6" y2="453.6" stroke="#000" stroke-width="1.4" />
<text x="49.6" y="463.5" font-size="9.6" font-weight="normal" stroke="#000" stroke-width="0.35" textLength="9.7" lengthAdjust="spacingAndGlyphs">10</text>
<text x="59.5" y="458.4" font-size="9" font-weight="normal" stroke="#000" stroke-width="0.35">0</text>
<line x1="93.45" y1="448.4" x2="93.45" y2="453.6" stroke="#000" stroke-width="1.4" />
<text x="87.45" y="463.5" font-size="9.6" font-weight="normal" stroke="#000" stroke-width="0.35" textLength="9.7" lengthAdjust="spacingAndGlyphs">10</text>
<text x="97.35" y="458.4" font-size="9" font-weight="normal" stroke="#000" stroke-width="0.35">1</text>
<line x1="131.3" y1="448.4" x2="131.3" y2="453.6" stroke="#000" stroke-width="1.4" />
<text x="125.3" y="463.5" font-size="9.6" font-weight="normal" stroke="#000" stroke-width="0.35" textLength="9.7" lengthAdjust="spacingAndGlyphs">10</text>
<text x="135.2" y="458.4" font-size="9" font-weight="normal" stroke="#000" stroke-width="0.35">2</text>
<line x1="169.15" y1="448.4" x2="169.15" y2="453.6" stroke="#000" stroke-width="1.4" />
<text x="163.15" y="463.5" font-size="9.6" font-weight="normal" stroke="#000" stroke-width="0.35" textLength="9.7" lengthAdjust="spacingAndGlyphs">10</text>
<text x="173.05" y="458.4" font-size="9" font-weight="normal" stroke="#000" stroke-width="0.35">3</text>
<line x1="207" y1="448.4" x2="207" y2="453.6" stroke="#000" stroke-width="1.4" />
<text x="201" y="463.5" font-size="9.6" font-weight="normal" stroke="#000" stroke-width="0.35" textLength="9.7" lengthAdjust="spacingAndGlyphs">10</text>
<text x="210.9" y="458.4" font-size="9" font-weight="normal" stroke="#000" stroke-width="0.35">4</text>
<text x="59.6" y="340.9" font-size="12.5" textLength="143.1" lengthAdjust="spacingAndGlyphs" >gp-91 phox morpholino</text>
<line x1="116.5" y1="353.8" x2="116.5" y2="370.8" stroke="#000" stroke-width="1.3" />
<line x1="116.5" y1="362.2" x2="207" y2="362.2" stroke="#000" stroke-width="1.3" />
<text x="162.6" y="372.6" font-size="10.4" font-weight="normal" stroke="#000" stroke-width="0.4" textLength="13" lengthAdjust="spacingAndGlyphs" >M1</text>
<text x="3" y="19.8" font-size="25.5" >A</text>
<text x="21.6" y="234" font-size="26" text-anchor="middle" textLength="147.5" lengthAdjust="spacingAndGlyphs" transform="rotate(-90 21.6 234)" >Cell number</text>
<text x="2" y="485.6" font-size="18.2" textLength="249.5" lengthAdjust="spacingAndGlyphs" >Relative fluorescent intensity</text>
<text x="1.5" y="522.2" font-size="23.5" >B</text>
<defs><filter id="bl" x="-20%" y="-50%" width="140%" height="200%"><feGaussianBlur stdDeviation="1.3"/></filter><clipPath id="g1"><rect x="117" y="508.2" width="37.6" height="9.5"/></clipPath><clipPath id="g2"><rect x="164.3" y="508.2" width="37.6" height="9.5"/></clipPath></defs>
<rect x="116.9" y="508.1" width="37.8" height="9.7" fill="#aaaaaa"/>
<g clip-path="url(#g1)"><g filter="url(#bl)"><ellipse cx="135.5" cy="513" rx="18" ry="3.4" fill="#606060"/><ellipse cx="145.5" cy="513.2" rx="6" ry="3" fill="#2e2e2e"/><ellipse cx="128" cy="513" rx="6" ry="2.4" fill="#5a5a5a"/></g></g>
<rect x="116.9" y="508.1" width="37.8" height="9.7" fill="none" stroke="#111" stroke-width="1.4"/>
<rect x="164.2" y="508.1" width="37.8" height="9.7" fill="#c6c6c6"/>
<g clip-path="url(#g2)"><g filter="url(#bl)"><ellipse cx="182" cy="512.8" rx="17" ry="3.0" fill="#8a8a8a"/><ellipse cx="192" cy="512.5" rx="6" ry="2.4" fill="#7a7a7a"/></g></g>
<rect x="164.2" y="508.1" width="37.8" height="9.7" fill="none" stroke="#111" stroke-width="1.4"/>
<rect x="121.5" y="533.2" width="21.7" height="105.6" fill="#000"/>
<rect x="173.8" y="626.5" width="22" height="12.3" fill="#000"/>
<line x1="184.6" y1="621.5" x2="184.6" y2="627" stroke="#000" stroke-width="2.0" />
<line x1="182.2" y1="621.8" x2="187" y2="621.8" stroke="#000" stroke-width="2.2" />
<rect x="106" y="529" width="105" height="109.8" fill="none" stroke="#000" stroke-width="1.6"/>
<line x1="103.4" y1="638.8" x2="106" y2="638.8" stroke="#000" stroke-width="1.3" />
<text x="86.4" y="643.3" font-size="15.3" text-anchor="middle" >0</text>
<line x1="103.4" y1="617.88" x2="106" y2="617.88" stroke="#000" stroke-width="1.3" />
<text x="86.4" y="622.38" font-size="15.3" text-anchor="middle" >20</text>
<line x1="103.4" y1="596.96" x2="106" y2="596.96" stroke="#000" stroke-width="1.3" />
<text x="86.4" y="601.46" font-size="15.3" text-anchor="middle" >40</text>
<line x1="103.4" y1="576.04" x2="106" y2="576.04" stroke="#000" stroke-width="1.3" />
<text x="86.4" y="580.54" font-size="15.3" text-anchor="middle" >60</text>
<line x1="103.4" y1="555.12" x2="106" y2="555.12" stroke="#000" stroke-width="1.3" />
<text x="86.4" y="559.62" font-size="15.3" text-anchor="middle" >80</text>
<line x1="103.4" y1="534.2" x2="106" y2="534.2" stroke="#000" stroke-width="1.3" />
<text x="86.4" y="538.7" font-size="15.3" text-anchor="middle" >100</text>
<text x="39.3" y="589.2" font-size="15.2" text-anchor="middle" textLength="162.5" lengthAdjust="spacingAndGlyphs" transform="rotate(-90 39.3 589.2)" >gp91 phox expression</text>
<text x="55.5" y="589.8" font-size="15.2" text-anchor="middle" textLength="131.5" lengthAdjust="spacingAndGlyphs" transform="rotate(-90 55.5 589.8)" >(relative intensity)</text>
<text x="140" y="647.2" font-size="12.0" text-anchor="end" transform="rotate(-45 140 647.2)" >Control morpholino</text>
<text x="134.6" y="675" font-size="12.4" text-anchor="end" transform="rotate(-45 134.6 675)" >-oligomer</text>
<text x="196.5" y="651.5" font-size="11.8" text-anchor="end" transform="rotate(-45 196.5 651.5)" >gp91 phox morpholino</text>
<text x="193" y="678.5" font-size="12.2" text-anchor="end" transform="rotate(-45 193 678.5)" >-antisense</text>
<rect x="358.7" y="82.5" width="155.5" height="135.5" fill="none" stroke="#000" stroke-width="1.9"/>
<line x1="371" y1="92.8" x2="391.3" y2="92.8" stroke="#000" stroke-width="2.0" />
<polygon points="381.1,87.7 385.7,92.8 381.1,97.9 376.5,92.8" fill="#000"/>
<line x1="371" y1="163.3" x2="391.3" y2="163.3" stroke="#000" stroke-width="2.0" />
<rect x="376.4" y="158.9" width="9.5" height="8.9" fill="#000"/>
<text x="393" y="97.9" font-size="16.2" textLength="54.9" lengthAdjust="spacingAndGlyphs" >control</text>
<text x="393" y="116" font-size="16.2" textLength="94.3" lengthAdjust="spacingAndGlyphs" >morpholino-</text>
<text x="393" y="133.6" font-size="16.2" textLength="67.4" lengthAdjust="spacingAndGlyphs" >oligomer</text>
<text x="393" y="169.7" font-size="16.2" textLength="81" lengthAdjust="spacingAndGlyphs" >gp91 phox</text>
<text x="393" y="188" font-size="16.2" textLength="94.3" lengthAdjust="spacingAndGlyphs" >morpholino-</text>
<text x="393" y="206.2" font-size="16.2" textLength="74.4" lengthAdjust="spacingAndGlyphs" >antisense</text>
<text x="282.1" y="231.4" font-size="25" >C</text>
<rect x="374.9" y="245.8" width="131.1" height="137.2" fill="none" stroke="#000" stroke-width="1.9"/>
<line x1="369.4" y1="245.8" x2="374.9" y2="245.8" stroke="#000" stroke-width="1.8" />
<text x="360.4" y="251.5" font-size="16.5" text-anchor="end" textLength="24" lengthAdjust="spacingAndGlyphs" >2.2</text>
<line x1="369.4" y1="291.53" x2="374.9" y2="291.53" stroke="#000" stroke-width="1.8" />
<text x="360.4" y="297.23" font-size="16.5" text-anchor="end" textLength="24" lengthAdjust="spacingAndGlyphs" >1.7</text>
<line x1="369.4" y1="337.27" x2="374.9" y2="337.27" stroke="#000" stroke-width="1.8" />
<text x="360.4" y="342.97" font-size="16.5" text-anchor="end" textLength="24" lengthAdjust="spacingAndGlyphs" >1.2</text>
<line x1="369.4" y1="383" x2="374.9" y2="383" stroke="#000" stroke-width="1.8" />
<text x="360.4" y="388.7" font-size="16.5" text-anchor="end" textLength="24" lengthAdjust="spacingAndGlyphs" >0.7</text>
<line x1="374.9" y1="383" x2="374.9" y2="388.8" stroke="#000" stroke-width="1.8" />
<text x="374.9" y="418" font-size="16.5" text-anchor="middle" >0</text>
<line x1="418.6" y1="383" x2="418.6" y2="388.8" stroke="#000" stroke-width="1.8" />
<text x="418.6" y="418" font-size="16.5" text-anchor="middle" >10</text>
<line x1="462.3" y1="383" x2="462.3" y2="388.8" stroke="#000" stroke-width="1.8" />
<text x="462.3" y="418" font-size="16.5" text-anchor="middle" >20</text>
<line x1="506" y1="383" x2="506" y2="388.8" stroke="#000" stroke-width="1.8" />
<text x="506" y="418" font-size="16.5" text-anchor="middle" >30</text>
<text x="296.4" y="309.5" font-size="16" text-anchor="middle" textLength="120.3" lengthAdjust="spacingAndGlyphs" transform="rotate(-90 296.4 309.5)" >Fold increase in</text>
<text x="317.6" y="307.3" font-size="16" text-anchor="middle" textLength="111.5" lengthAdjust="spacingAndGlyphs" transform="rotate(-90 317.6 307.3)" >MMP-9 activity</text>
<polyline points="374.9,355.56 405.49,337.27 440.45,287.87 484.15,273.24" fill="none" stroke="#000" stroke-width="2.0" stroke-linejoin="round"/>
<polyline points="374.9,355.56 405.49,367.18 440.45,355.56 484.15,367.18" fill="none" stroke="#000" stroke-width="2.0" stroke-linejoin="round"/>
<line x1="405.49" y1="346.41" x2="405.49" y2="328.12" stroke="#000" stroke-width="1.8" />
<line x1="403.09" y1="346.41" x2="407.89" y2="346.41" stroke="#000" stroke-width="2.2" />
<line x1="403.09" y1="328.12" x2="407.89" y2="328.12" stroke="#000" stroke-width="2.2" />
<line x1="440.45" y1="317.14" x2="440.45" y2="258.61" stroke="#000" stroke-width="1.8" />
<line x1="438.05" y1="317.14" x2="442.85" y2="317.14" stroke="#000" stroke-width="2.2" />
<line x1="438.05" y1="258.61" x2="442.85" y2="258.61" stroke="#000" stroke-width="2.2" />
<line x1="484.15" y1="290.62" x2="484.15" y2="254.03" stroke="#000" stroke-width="1.8" />
<line x1="481.75" y1="290.62" x2="486.55" y2="290.62" stroke="#000" stroke-width="2.2" />
<line x1="481.75" y1="254.03" x2="486.55" y2="254.03" stroke="#000" stroke-width="2.2" />
<line x1="405.49" y1="383" x2="405.49" y2="352.82" stroke="#000" stroke-width="1.8" />
<line x1="403.09" y1="383" x2="407.89" y2="383" stroke="#000" stroke-width="2.2" />
<line x1="403.09" y1="352.82" x2="407.89" y2="352.82" stroke="#000" stroke-width="2.2" />
<line x1="484.15" y1="378.43" x2="484.15" y2="357.39" stroke="#000" stroke-width="1.8" />
<line x1="481.75" y1="378.43" x2="486.55" y2="378.43" stroke="#000" stroke-width="2.2" />
<line x1="481.75" y1="357.39" x2="486.55" y2="357.39" stroke="#000" stroke-width="2.2" />
<polygon points="374.9,350.31 380.15,355.56 374.9,360.81 369.65,355.56" fill="#000"/>
<polygon points="405.49,332.02 410.74,337.27 405.49,342.52 400.24,337.27" fill="#000"/>
<polygon points="440.45,282.62 445.7,287.87 440.45,293.12 435.2,287.87" fill="#000"/>
<polygon points="484.15,267.99 489.4,273.24 484.15,278.49 478.9,273.24" fill="#000"/>
<rect x="370" y="350.66" width="9.8" height="9.8" fill="#000"/>
<rect x="400.59" y="362.28" width="9.8" height="9.8" fill="#000"/>
<rect x="435.55" y="350.66" width="9.8" height="9.8" fill="#000"/>
<rect x="479.25" y="362.28" width="9.8" height="9.8" fill="#000"/>
<path d="M430.3,283.9L430.3,280M430.3,283.9L434.01,282.69M430.3,283.9L432.59,287.06M430.3,283.9L428.01,287.06M430.3,283.9L426.59,282.69" stroke="#000" stroke-width="1.8" stroke-linecap="round" fill="none"/>
<path d="M474.4,266.5L474.4,262.6M474.4,266.5L478.11,265.29M474.4,266.5L476.69,269.66M474.4,266.5L472.11,269.66M474.4,266.5L470.69,265.29" stroke="#000" stroke-width="1.8" stroke-linecap="round" fill="none"/>
<path d="M434,366.2L434,362.3M434,366.2L437.71,364.99M434,366.2L436.29,369.36M434,366.2L431.71,369.36M434,366.2L430.29,364.99" stroke="#000" stroke-width="1.8" stroke-linecap="round" fill="none"/>
<path d="M444.25,366.2L444.25,362.3M444.25,366.2L447.96,364.99M444.25,366.2L446.54,369.36M444.25,366.2L441.96,369.36M444.25,366.2L440.54,364.99" stroke="#000" stroke-width="1.8" stroke-linecap="round" fill="none"/>
<path d="M478.1,349.8L478.1,345.9M478.1,349.8L481.81,348.59M478.1,349.8L480.39,352.96M478.1,349.8L475.81,352.96M478.1,349.8L474.39,348.59" stroke="#000" stroke-width="1.8" stroke-linecap="round" fill="none"/>
<path d="M488.35,349.8L488.35,345.9M488.35,349.8L492.06,348.59M488.35,349.8L490.64,352.96M488.35,349.8L486.06,352.96M488.35,349.8L484.64,348.59" stroke="#000" stroke-width="1.8" stroke-linecap="round" fill="none"/>
<text x="285.3" y="440.8" font-size="25" >D</text>
<rect x="376.9" y="452.3" width="130.2" height="145.7" fill="none" stroke="#000" stroke-width="1.9"/>
<line x1="371.4" y1="452.3" x2="376.9" y2="452.3" stroke="#000" stroke-width="1.8" />
<text x="360.9" y="460.2" font-size="16.5" text-anchor="end" textLength="24" lengthAdjust="spacingAndGlyphs" >1.8</text>
<line x1="371.4" y1="525.15" x2="376.9" y2="525.15" stroke="#000" stroke-width="1.8" />
<text x="360.9" y="533.05" font-size="16.5" text-anchor="end" textLength="24" lengthAdjust="spacingAndGlyphs" >1.3</text>
<line x1="371.4" y1="598" x2="376.9" y2="598" stroke="#000" stroke-width="1.8" />
<text x="360.9" y="605.9" font-size="16.5" text-anchor="end" textLength="24" lengthAdjust="spacingAndGlyphs" >0.8</text>
<line x1="376.9" y1="598" x2="376.9" y2="603.8" stroke="#000" stroke-width="1.8" />
<text x="376.9" y="630.5" font-size="16.5" text-anchor="middle" >0</text>
<line x1="420.3" y1="598" x2="420.3" y2="603.8" stroke="#000" stroke-width="1.8" />
<text x="420.3" y="630.5" font-size="16.5" text-anchor="middle" >10</text>
<line x1="463.7" y1="598" x2="463.7" y2="603.8" stroke="#000" stroke-width="1.8" />
<text x="463.7" y="630.5" font-size="16.5" text-anchor="middle" >20</text>
<line x1="507.1" y1="598" x2="507.1" y2="603.8" stroke="#000" stroke-width="1.8" />
<text x="507.1" y="630.5" font-size="16.5" text-anchor="middle" >30</text>
<text x="298.2" y="519.9" font-size="16" text-anchor="middle" textLength="125.8" lengthAdjust="spacingAndGlyphs" transform="rotate(-90 298.2 519.9)" >Fold increase in</text>
<text x="318.9" y="517.4" font-size="16" text-anchor="middle" textLength="118.6" lengthAdjust="spacingAndGlyphs" transform="rotate(-90 318.9 517.4)" >MMP-2 Activity</text>
<polyline points="376.9,568.86 407.28,539.72 442,496.01 485.4,503.44" fill="none" stroke="#000" stroke-width="2.0" stroke-linejoin="round"/>
<polyline points="376.9,568.86 407.28,573.23 442,579.06 485.4,561.58" fill="none" stroke="#000" stroke-width="2.0" stroke-linejoin="round"/>
<line x1="442" y1="523.98" x2="442" y2="466.14" stroke="#000" stroke-width="1.8" />
<line x1="439.6" y1="523.98" x2="444.4" y2="523.98" stroke="#000" stroke-width="2.2" />
<line x1="439.6" y1="466.14" x2="444.4" y2="466.14" stroke="#000" stroke-width="2.2" />
<line x1="485.4" y1="513.06" x2="485.4" y2="492.08" stroke="#000" stroke-width="1.8" />
<line x1="483" y1="513.06" x2="487.8" y2="513.06" stroke="#000" stroke-width="2.2" />
<line x1="483" y1="492.08" x2="487.8" y2="492.08" stroke="#000" stroke-width="2.2" />
<line x1="407.28" y1="581.83" x2="407.28" y2="565.07" stroke="#000" stroke-width="1.8" />
<line x1="404.88" y1="581.83" x2="409.68" y2="581.83" stroke="#000" stroke-width="2.2" />
<line x1="404.88" y1="565.07" x2="409.68" y2="565.07" stroke="#000" stroke-width="2.2" />
<line x1="442" y1="586.93" x2="442" y2="569.88" stroke="#000" stroke-width="1.8" />
<line x1="439.6" y1="586.93" x2="444.4" y2="586.93" stroke="#000" stroke-width="2.2" />
<line x1="439.6" y1="569.88" x2="444.4" y2="569.88" stroke="#000" stroke-width="2.2" />
<line x1="485.4" y1="571.63" x2="485.4" y2="550.94" stroke="#000" stroke-width="1.8" />
<line x1="483" y1="571.63" x2="487.8" y2="571.63" stroke="#000" stroke-width="2.2" />
<line x1="483" y1="550.94" x2="487.8" y2="550.94" stroke="#000" stroke-width="2.2" />
<polygon points="376.9,564.36 381.4,568.86 376.9,573.36 372.4,568.86" fill="#000"/>
<polygon points="407.28,535.22 411.78,539.72 407.28,544.22 402.78,539.72" fill="#000"/>
<polygon points="442,491.51 446.5,496.01 442,500.51 437.5,496.01" fill="#000"/>
<polygon points="485.4,498.94 489.9,503.44 485.4,507.94 480.9,503.44" fill="#000"/>
<rect x="372.4" y="564.36" width="9" height="9" fill="#000"/>
<rect x="402.78" y="568.73" width="9" height="9" fill="#000"/>
<rect x="437.5" y="574.56" width="9" height="9" fill="#000"/>
<rect x="480.9" y="557.08" width="9" height="9" fill="#000"/>
<path d="M430.5,495.1L430.5,491.2M430.5,495.1L434.21,493.89M430.5,495.1L432.79,498.26M430.5,495.1L428.21,498.26M430.5,495.1L426.79,493.89" stroke="#000" stroke-width="1.8" stroke-linecap="round" fill="none"/>
<path d="M476.9,495.2L476.9,491.3M476.9,495.2L480.61,493.99M476.9,495.2L479.19,498.36M476.9,495.2L474.61,498.36M476.9,495.2L473.19,493.99" stroke="#000" stroke-width="1.8" stroke-linecap="round" fill="none"/>
<path d="M435.4,593.3L435.4,589.4M435.4,593.3L439.11,592.09M435.4,593.3L437.69,596.46M435.4,593.3L433.11,596.46M435.4,593.3L431.69,592.09" stroke="#000" stroke-width="1.8" stroke-linecap="round" fill="none"/>
<path d="M445.65,593.3L445.65,589.4M445.65,593.3L449.36,592.09M445.65,593.3L447.94,596.46M445.65,593.3L443.36,596.46M445.65,593.3L441.94,592.09" stroke="#000" stroke-width="1.8" stroke-linecap="round" fill="none"/>
<path d="M478.7,581.6L478.7,577.7M478.7,581.6L482.41,580.39M478.7,581.6L480.99,584.76M478.7,581.6L476.41,584.76M478.7,581.6L474.99,580.39" stroke="#000" stroke-width="1.8" stroke-linecap="round" fill="none"/>
<path d="M488.95,581.6L488.95,577.7M488.95,581.6L492.66,580.39M488.95,581.6L491.24,584.76M488.95,581.6L486.66,584.76M488.95,581.6L485.24,580.39" stroke="#000" stroke-width="1.8" stroke-linecap="round" fill="none"/>
<text x="443" y="658.3" font-size="16" text-anchor="middle" textLength="113.8" lengthAdjust="spacingAndGlyphs" >Time (minutes)</text>
</svg></body></html>
